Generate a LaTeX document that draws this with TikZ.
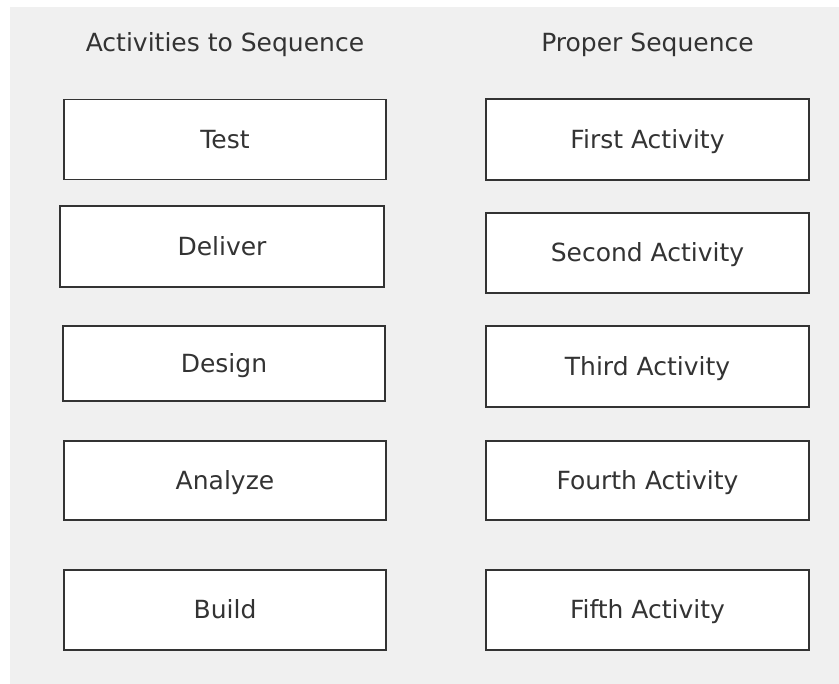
\documentclass[tikz,border=0pt]{standalone}
\usepackage{fontspec}
\setmainfont{DejaVu Sans}
\definecolor{panel}{HTML}{F0F0F0}
\definecolor{ink}{HTML}{333333}
\begin{document}
\begin{tikzpicture}[x=1pt,y=-1pt,
	actbox/.style={draw=ink,line width=1.6pt,fill=white,text=ink,font=\fontsize{25}{30}\selectfont,minimum width=322pt,minimum height=80pt,text height=18pt,text depth=0pt,inner sep=0pt},
	headtxt/.style={text=ink,font=\fontsize{25}{30}\selectfont,anchor=base,inner sep=0pt}]
	\useasboundingbox (0,0) rectangle (839,684);
	\fill[panel] (10,7) rectangle (839,684);
	\node[headtxt] (lefthead) at (225,52) {Activities to Sequence};
	\node[headtxt] (righthead) at (647.5,52) {Proper Sequence};
	\node[actbox] (test) at (225,139.5) {Test};
	\node[actbox,minimum width=324pt,minimum height=81pt] (deliver) at (222,246.5) {Deliver};
	\node[actbox,minimum height=75pt] (design) at (224,363.5) {Design};
	\node[actbox,minimum height=79pt] (analyze) at (225,480.5) {Analyze};
	\node[actbox] (build) at (225,610) {Build};
	\foreach \n/\t/\y/\h in {first/First/139.5/81,second/Second/253/80,third/Third/366.5/81,fourth/Fourth/480.5/79,fifth/Fifth/610/80}
		\node[actbox,minimum width=323pt,minimum height=\h pt] (\n) at (647.5,\y) {\t{} Activity};
\end{tikzpicture}
\end{document}
